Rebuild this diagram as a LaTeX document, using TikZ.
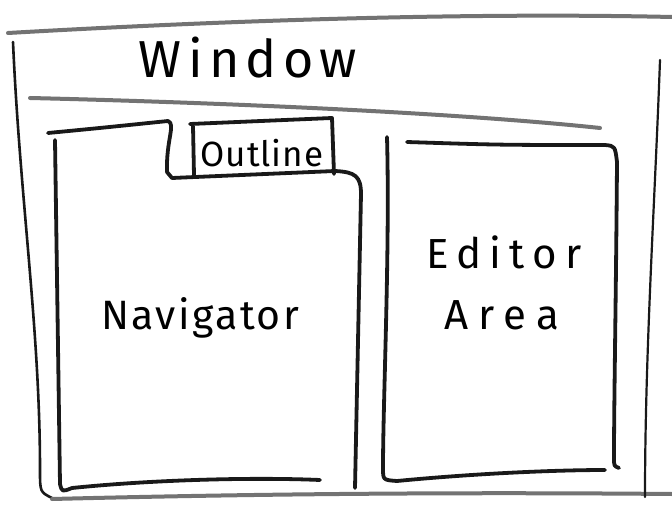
\documentclass[tikz,border=0pt]{standalone}
\usepackage{fontspec}
\setmainfont{Fira Sans}
\tikzset{
  pen/.style={line width=3.8pt, line cap=round, line join=round, black!90},
  chalk/.style={line width=4pt, line cap=round, black!55},
  hand/.style={font=\addfontfeature{LetterSpace=12}}
}
\begin{document}
\begin{tikzpicture}[x=1pt,y=-1pt]
    \useasboundingbox[fill=white] (0,0) rectangle (672,505);
    % window frame
    \draw[chalk] (8,33) .. controls (200,22) and (450,12) .. (672,17);
    \draw[pen,line width=2.6pt] (13,42) .. controls (20,200) and (40,330) .. (40,470) .. controls (40,492) .. (52,498);
    \draw[chalk] (52,499) .. controls (250,494) and (450,492) .. (672,494);
    \draw[pen,line width=2.2pt] (660,60) .. controls (655,200) and (645,350) .. (645,497);
    \draw[chalk] (30,98) .. controls (200,102) and (450,112) .. (600,128);
    \node[font=\fontsize{52}{54}\selectfont\addfontfeature{LetterSpace=12}] (window) at (248,58) {Window};
    % navigator with outline tab
    \draw[pen] (48,133) .. controls (100,128) .. (168,121) .. controls (176,124) and (166,140) .. (167,172)
      -- (172,178) -- (335,171) .. controls (355,172) and (361,176) .. (361,194) -- (355,488);
    \draw[pen] (55,140) -- (60,484) .. controls (62,492) .. (72,488) .. controls (150,480) and (250,477) .. (320,480);
    \draw[pen] (193,126) -- (194,175);
    \draw[pen] (190,124) -- (332,118) -- (334,174);
    \node[font=\fontsize{35}{37}\selectfont\addfontfeature{LetterSpace=3}] (outline) at (262,153) {Outline};
    \node[font=\fontsize{41}{43}\selectfont\addfontfeature{LetterSpace=6}] (nav) at (200,318) {Navigator};
    % editor area
    \draw[pen] (387,137) .. controls (390,250) and (383,400) .. (383,468) .. controls (383,480) .. (397,481)
      .. controls (480,473) and (560,470) .. (605,470);
    \draw[pen] (407,142) .. controls (500,145) .. (605,145) .. controls (615,146) .. (617,162)
      .. controls (616,300) and (614,400) .. (614,458) .. controls (614,466) .. (619,468);
    \node[font=\fontsize{42}{44}\selectfont\addfontfeature{LetterSpace=20}] (editor) at (504,252) {Editor};
    \node[font=\fontsize{42}{44}\selectfont\addfontfeature{LetterSpace=24}] (area) at (502,315) {Area};
\end{tikzpicture}
\end{document}
